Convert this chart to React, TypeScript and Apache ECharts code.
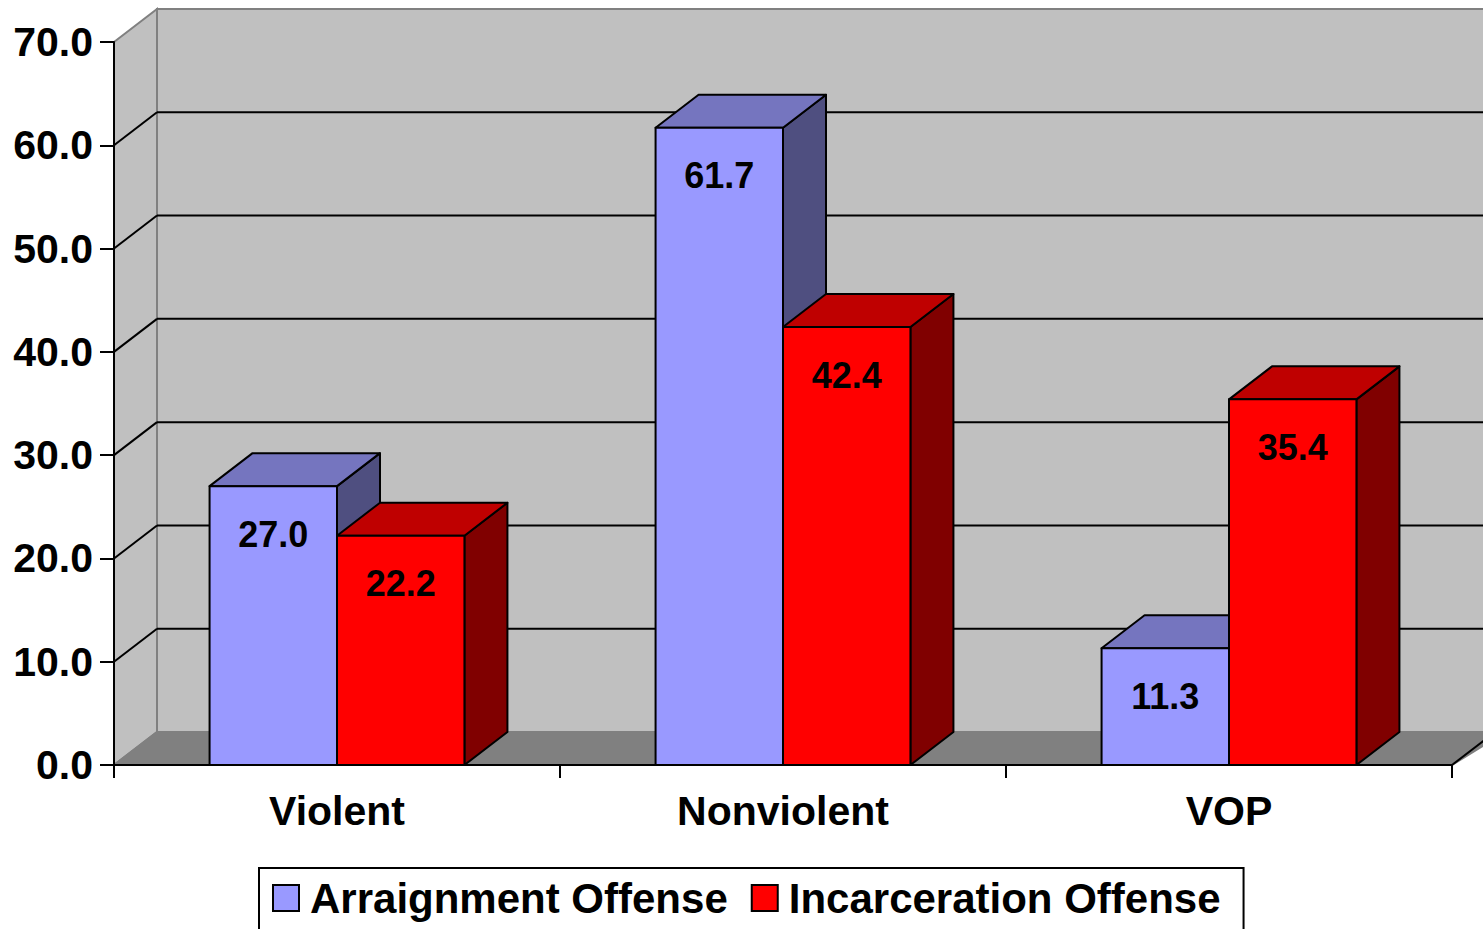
import React, { useEffect, useRef } from "react";
import * as echarts from "echarts";

const categories = ["Violent", "Nonviolent", "VOP"];
const seriesNames = ["Arraignment Offense", "Incarceration Offense"];
const arraignment = [27.0, 61.7, 11.3];
const incarceration = [22.2, 42.4, 35.4];
const yTicks = [0, 10, 20, 30, 40, 50, 60, 70];

const FONT = '"Liberation Sans", Arial, sans-serif';
const DX = 43;
const DY = -33;

const faces = [
  { front: "#9999FF", top: "#7575BF", side: "#4F4F80" },
  { front: "#FF0000", top: "#BF0000", side: "#800000" },
];

function makeBarRender(seriesIdx: number) {
  return function (params: any, api: any) {
    const cat = api.value(0);
    const val = api.value(1);
    const band = api.size([1, 0])[0];
    const w = band / 3.5;
    const base = api.coord([cat, 0]);
    const topP = api.coord([cat, val]);
    const cx = base[0];
    const xL = seriesIdx === 0 ? cx - w : cx;
    const xR = xL + w;
    const yB = base[1];
    const yT = topP[1];
    const f = faces[seriesIdx];
    const stroke = { stroke: "#000", lineWidth: 2, lineJoin: "round" };
    return {
      type: "group",
      children: [
        {
          type: "polygon",
          shape: { points: [[xR, yB], [xR + DX, yB + DY], [xR + DX, yT + DY], [xR, yT]] },
          style: { fill: f.side, ...stroke },
        },
        {
          type: "polygon",
          shape: { points: [[xL, yT], [xL + DX, yT + DY], [xR + DX, yT + DY], [xR, yT]] },
          style: { fill: f.top, ...stroke },
        },
        {
          type: "rect",
          shape: { x: xL, y: yT, width: w, height: yB - yT },
          style: { fill: f.front, ...stroke },
        },
        {
          type: "text",
          style: {
            text: val.toFixed(1),
            x: (xL + xR) / 2,
            y: yT + 48,
            fill: "#000",
            font: `bold 36px ${FONT}`,
            align: "center",
            verticalAlign: "middle",
          },
        },
      ],
    };
  };
}

function renderWalls(params: any, api: any) {
  const cs = params.coordSys;
  const x0 = cs.x;
  const x1 = cs.x + cs.width;
  const yBase = api.coord([0, yTicks[0]])[1];
  const yTop = api.coord([0, yTicks[yTicks.length - 1]])[1];
  const children: any[] = [];
  children.push({
    type: "rect",
    shape: { x: x0 + DX, y: yTop + DY, width: x1 - x0 + 10, height: yBase - yTop },
    style: { fill: "#C0C0C0", stroke: "#808080", lineWidth: 2 },
  });
  children.push({
    type: "polygon",
    shape: { points: [[x0, yTop], [x0 + DX, yTop + DY], [x0 + DX, yBase + DY], [x0, yBase]] },
    style: { fill: "#C0C0C0", stroke: "#808080", lineWidth: 2 },
  });
  children.push({
    type: "polygon",
    shape: { points: [[x0, yBase], [x0 + DX, yBase + DY], [x1 + DX + 10, yBase + DY], [x1, yBase]] },
    style: { fill: "#808080", stroke: "#808080", lineWidth: 2 },
  });
  children.push({
    type: "line",
    shape: { x1: x1, y1: yBase, x2: x1 + DX, y2: yBase + DY },
    style: { stroke: "#000", lineWidth: 2 },
  });
  yTicks.slice(1, -1).forEach((v) => {
    const y = api.coord([0, v])[1];
    children.push({
      type: "line",
      shape: { x1: x0 + DX, y1: y + DY, x2: x1 + DX + 10, y2: y + DY },
      style: { stroke: "#000", lineWidth: 2 },
    });
    children.push({
      type: "line",
      shape: { x1: x0, y1: y, x2: x0 + DX, y2: y + DY },
      style: { stroke: "#000", lineWidth: 2 },
    });
  });
  return { type: "group", children };
}

export default function App() {
  const ref = useRef<HTMLDivElement>(null);
  useEffect(() => {
    if (!ref.current) return;
    const chart = echarts.init(ref.current, null, { renderer: "svg" });
    const axisFont = { fontFamily: FONT, fontWeight: "bold", color: "#000" };
    chart.setOption({
      animation: false,
      backgroundColor: "#FFFFFF",
      grid: { left: 114, right: 31, top: 42, bottom: 164 },
      legend: {
        data: seriesNames,
        left: 259,
        top: 868,
        orient: "horizontal",
        padding: [5, 23, 20, 13],
        itemGap: 23,
        itemWidth: 26,
        itemHeight: 26,
        icon: "rect",
        borderColor: "#000",
        borderWidth: 2,
        itemStyle: { borderColor: "#000", borderWidth: 2 },
        textStyle: { ...axisFont, fontSize: 42, lineHeight: 50, padding: [0, 0, 0, 6] },
      },
      xAxis: {
        type: "category",
        data: categories,
        z: 10,
        axisLine: { show: true, lineStyle: { color: "#000", width: 2 } },
        axisTick: { show: true, length: 13, lineStyle: { color: "#000", width: 2 } },
        axisLabel: { ...axisFont, fontSize: 41, margin: 25 },
        splitLine: { show: false },
      },
      yAxis: {
        type: "value",
        min: 0,
        max: 70,
        interval: 10,
        z: 10,
        axisLine: { show: true, lineStyle: { color: "#000", width: 2 } },
        axisTick: { show: true, length: 14, lineStyle: { color: "#000", width: 2 } },
        axisLabel: { ...axisFont, fontSize: 41, margin: 21, formatter: (v: number) => v.toFixed(1) },
        splitLine: { show: false },
      },
      series: [
        {
          type: "custom",
          name: "walls",
          silent: true,
          clip: false,
          renderItem: renderWalls,
          data: [[0, 0]],
          z: 1,
        },
        {
          type: "custom",
          name: seriesNames[0],
          clip: false,
          renderItem: makeBarRender(0),
          itemStyle: { color: faces[0].front, borderColor: "#000", borderWidth: 2 },
          encode: { x: 0, y: 1 },
          data: arraignment.map((v, i) => [i, v]),
          z: 2,
        },
        {
          type: "custom",
          name: seriesNames[1],
          clip: false,
          renderItem: makeBarRender(1),
          itemStyle: { color: faces[1].front, borderColor: "#000", borderWidth: 2 },
          encode: { x: 0, y: 1 },
          data: incarceration.map((v, i) => [i, v]),
          z: 3,
        },
      ],
    });
    return () => chart.dispose();
  }, []);
  return (
    <div
      ref={ref}
      style={{ position: "fixed", left: 0, top: 0, width: 1483, height: 929 }}
    />
  );
}
